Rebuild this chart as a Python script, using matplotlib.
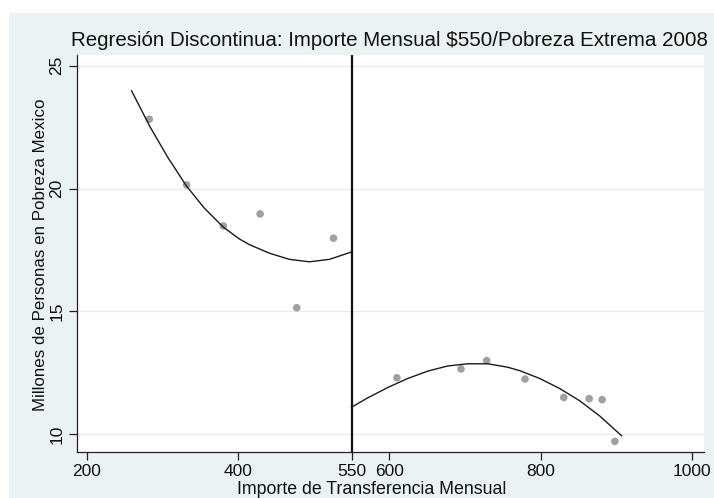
import matplotlib
matplotlib.use("Agg")
import matplotlib.pyplot as plt
from matplotlib.patches import Rectangle

plt.rcParams['font.family'] = ['Liberation Sans', 'DejaVu Sans']

# Scatter data
left_x = [282.7, 332.1, 380.6, 429.2, 477.6, 526.2]
left_y = [22.82, 20.15, 18.48, 18.97, 15.15, 17.98]
right_x = [610.0, 694.7, 728.6, 779.3, 830.5, 864.0, 881.2, 898.0]
right_y = [12.30, 12.66, 13.00, 12.25, 11.50, 11.45, 11.41, 9.71]

# Fitted curves
fit_left_x = [259.3, 283.6, 307.0, 331.3, 355.0, 380.6, 401.8, 415.0, 441.5, 467.8, 494.3, 520.8, 550.0]
fit_left_y = [23.98, 22.52, 21.28, 20.13, 19.22, 18.43, 17.95, 17.72, 17.37, 17.12, 17.02, 17.12, 17.42]
fit_right_x = [550.0, 571.2, 597.6, 624.1, 650.6, 677.0, 703.5, 730.0, 756.4, 772.3, 798.8, 825.3, 851.7, 878.2, 906.9]
fit_right_y = [11.10, 11.48, 11.90, 12.27, 12.57, 12.78, 12.87, 12.87, 12.73, 12.59, 12.27, 11.86, 11.36, 10.74, 9.94]

cutoff = 550
x_ticks = [200, 400, 550, 600, 800, 1000]
y_ticks = [10, 15, 20, 25]

title = "Regresión Discontinua: Importe Mensual $550/Pobreza Extrema 2008"
xlabel = "Importe de Transferencia Mensual"
ylabel = "Millones de Personas en Pobreza Mexico"

W, H = 714, 498
fig = plt.figure(figsize=(W / 100, H / 100), dpi=100, facecolor='white')
bg = '#EAF2F3'
fig.patches.append(Rectangle((9 / W, 0), 1 - 9 / W, (H - 13) / H,
                             transform=fig.transFigure, facecolor=bg,
                             edgecolor='none', zorder=-10))

L, R, T, B = 77, 704, 55.4, 451.5
ax = fig.add_axes([L / W, (H - B) / H, (R - L) / W, (B - T) / H])
ax.set_zorder(1)
ax.set_facecolor('white')

ax.set_xlim(187.2, 1015.8)
ax.set_ylim(9.30, 25.42)

ax.set_yticks(y_ticks)
ax.set_xticks(x_ticks)
ax.yaxis.grid(True, color='#E4EEF0', linewidth=1.0)
ax.xaxis.grid(False)
ax.set_axisbelow(True)

for s in ['top', 'right']:
    ax.spines[s].set_visible(False)
for s in ['left', 'bottom']:
    ax.spines[s].set_linewidth(0.9)
    ax.spines[s].set_color('#222222')

ax.tick_params(axis='both', length=6, width=0.9, color='#222222',
               labelsize=12.5, labelcolor='#111111', pad=3)
ax.set_yticklabels([str(v) for v in y_ticks], rotation=90, va='center')

ax.scatter(left_x, left_y, s=30, color='#A0A0A0', edgecolors='none', zorder=3)
ax.scatter(right_x, right_y, s=30, color='#A0A0A0', edgecolors='none', zorder=3)
ax.plot(fit_left_x, fit_left_y, color='#1a1a1a', linewidth=1.0, zorder=4,
        solid_joinstyle='round')
ax.plot(fit_right_x, fit_right_y, color='#1a1a1a', linewidth=1.0, zorder=4,
        solid_joinstyle='round')
ax.axvline(cutoff, color='#111111', linewidth=1.6, zorder=5)

fig.text(389 / W, 1 - 41 / H, title, ha='center', va='center',
         fontsize=14.8, color='#111111', zorder=2)
fig.text(372 / W, 1 - 489 / H, xlabel, ha='center', va='center',
         fontsize=12.8, color='#111111', zorder=2)
fig.text(41 / W, 1 - 255 / H, ylabel, ha='center', va='center',
         rotation=90, fontsize=12.2, color='#111111', zorder=2)

fig.savefig('out.png', dpi=100, facecolor=fig.get_facecolor())
